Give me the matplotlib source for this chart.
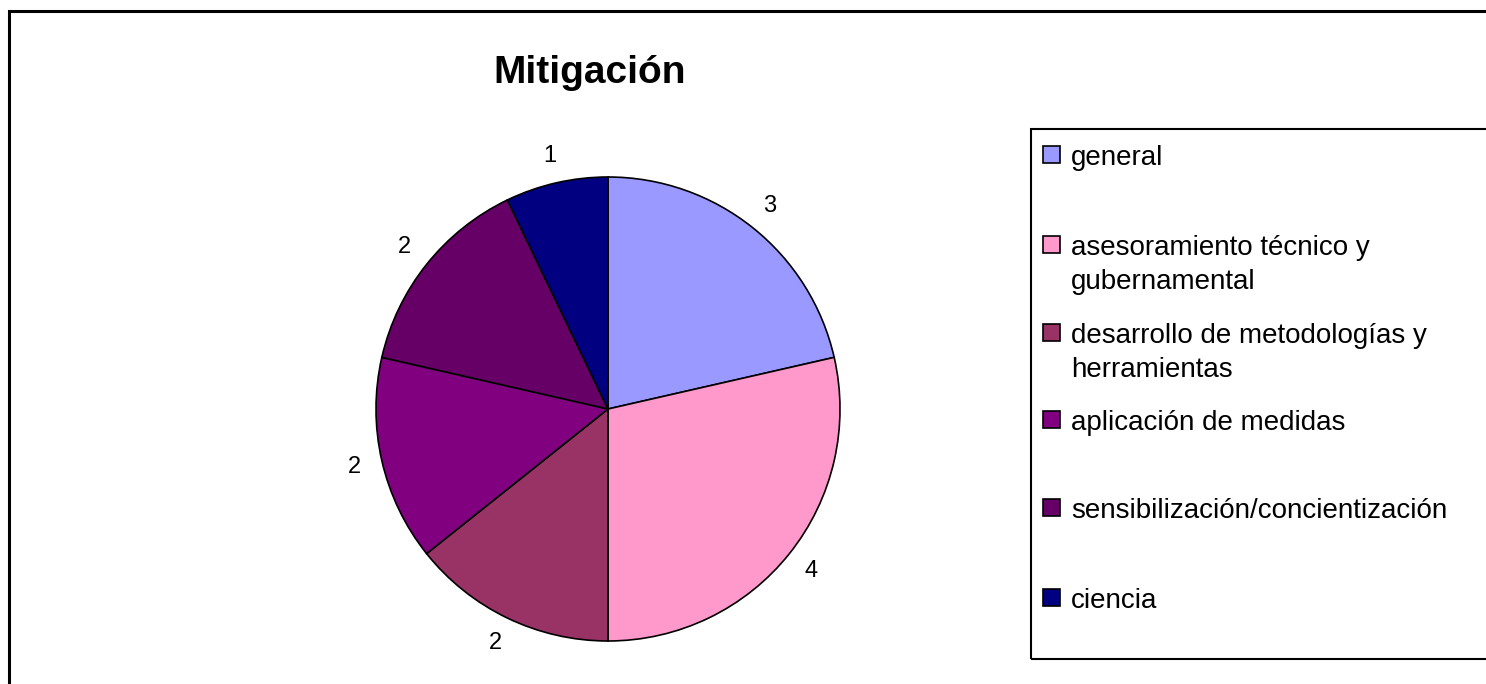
import matplotlib.pyplot as plt
from matplotlib.patches import Rectangle

categorias = ['general', 'asesoramiento técnico y\ngubernamental',
              'desarrollo de metodologías y\nherramientas', 'aplicación de medidas',
              'sensibilización/concientización', 'ciencia']
valores = [3, 4, 2, 2, 2, 1]
colores = ['#9999FF', '#FF99CC', '#993366', '#800080', '#660066', '#000080']

plt.rcParams['font.family'] = ['Liberation Sans', 'DejaVu Sans']

W, H = 1486, 684
fig = plt.figure(figsize=(W / 100, H / 100), dpi=100)

# marco exterior
fig.patches.append(Rectangle((9 / W, -0.1), 1.2, 1 - 11 / H + 0.1, transform=fig.transFigure,
                             fill=False, ec='black', lw=2.2))

# torta
cx, cy, r = 608, 409, 232
ax = fig.add_axes([(cx - r) / W, (H - cy - r) / H, 2 * r / W, 2 * r / H])
wedges, textos = ax.pie(valores, colors=colores, startangle=90, counterclock=False,
                        labels=[str(v) for v in valores], labeldistance=1.12,
                        wedgeprops=dict(edgecolor='black', linewidth=1.2),
                        textprops=dict(fontsize=17, color='black'))
for t in textos:
    t.set_ha('center')
ax.set_xlim(-1, 1)
ax.set_ylim(-1, 1)
ax.set_aspect('equal')

fig.text(590 / W, 1 - 73 / H, 'Mitigación', fontsize=28, fontweight='bold',
         ha='center', va='center')

# leyenda
fig.patches.append(Rectangle((1031 / W, 1 - 659 / H), 0.5, (659 - 129) / H,
                             transform=fig.transFigure, fill=False, ec='black', lw=1.5))
ys = [157, 247, 335, 422, 510, 600]
for cat, col, y in zip(categorias, colores, ys):
    fig.patches.append(Rectangle((1043 / W, 1 - (y + 6) / H), 17 / W, 17 / H,
                                 transform=fig.transFigure, fc=col, ec='black', lw=1.2))
    fig.text(1071 / W, 1 - (y - 12) / H, cat, fontsize=20, ha='left', va='top',
             linespacing=1.42)

fig.savefig('out.png', dpi=100)
